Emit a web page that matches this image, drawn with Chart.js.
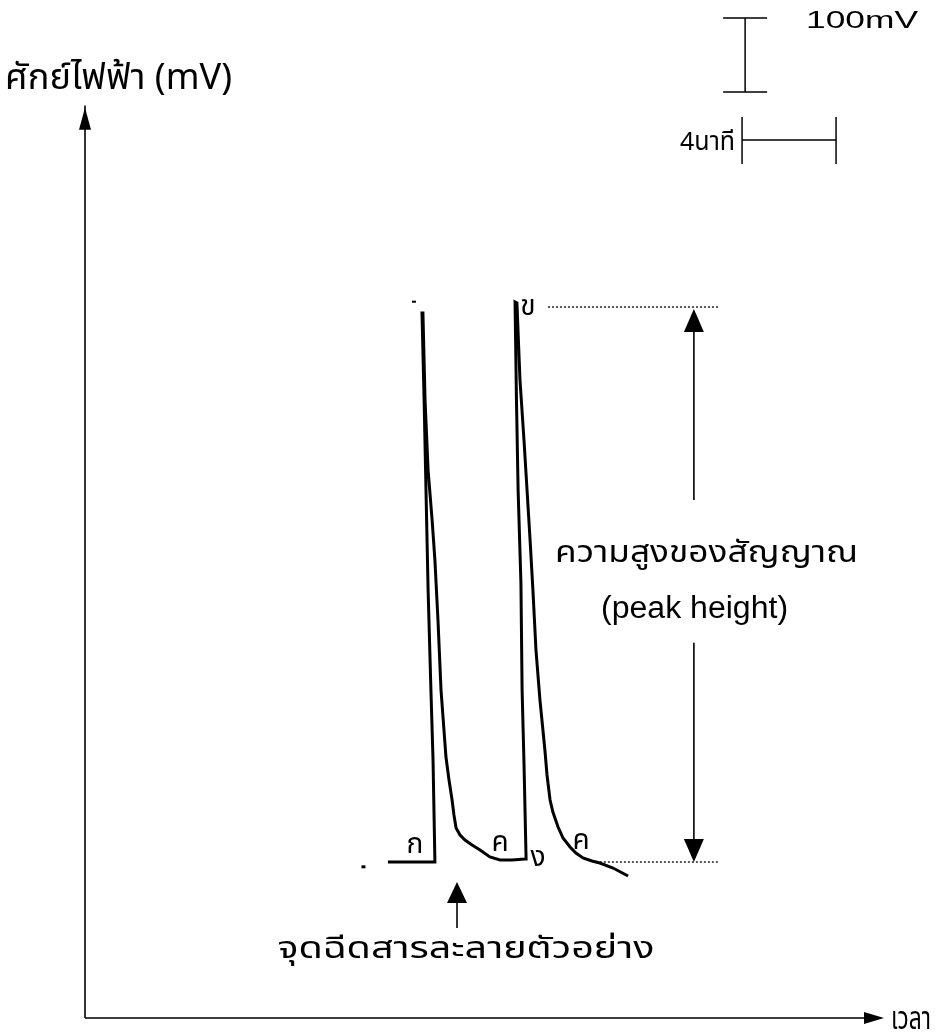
<!DOCTYPE html>
<html>
<head>
<meta charset="utf-8">
<script src="https://cdn.jsdelivr.net/npm/chart.js@4.4.1/dist/chart.umd.min.js"></script>
<style>
  html, body { margin: 0; padding: 0; background: #fff; }
  #wrap { width: 935px; height: 1035px; }
</style>
</head>
<body>
<div id="wrap"><canvas id="c" width="935" height="1035"></canvas></div>
<script>
// recorder trace: time (min) vs signal (mV)
const timeMin = [12.89, 14.89, 14.81, 14.72, 14.60, 14.51, 14.43, 14.34,
  14.38, 14.47, 14.60, 14.77, 14.89, 15.02, 15.15, 15.36, 15.49, 15.62, 15.70, 15.79, 15.96, 16.17, 16.47,
  16.81, 17.23, 17.66, 18.17, 18.72,
  18.77, 18.68, 18.60, 18.55, 18.43, 18.36, 18.30,
  18.38, 18.51, 18.68, 18.81, 18.94, 19.06, 19.19, 19.36, 19.57, 19.66, 19.79, 19.91, 20.13, 20.34, 20.64,
  20.89, 21.19, 21.57, 21.91, 22.47, 23.11];
const signalMv = [210.8, 210.8, 348.6, 443.2, 578.4, 713.5, 835.1, 952.7,
  952.7, 835.1, 740.5, 673.0, 618.9, 537.8, 443.2, 352.7, 321.6, 294.6, 274.3, 256.8, 247.3, 240.5, 233.8,
  227.0, 217.6, 213.5, 213.5, 214.9,
  214.9, 344.6, 443.2, 587.8, 713.5, 835.1, 967.6,
  966.2, 862.2, 781.1, 713.5, 645.9, 578.4, 497.3, 429.7, 362.2, 328.4, 294.6, 278.4, 258.1, 243.2, 231.1,
  223.0, 216.2, 212.2, 209.5, 202.7, 191.9];

// peak markers
const markText = ['ก', 'ค', 'ง', 'ข', 'ค'];
const markTime = [14.04, 17.66, 19.28, 18.85, 21.11];
const markMv   = [231.1, 233.8, 213.5, 958.1, 236.5];

// levels used for the peak height
const baseMv = 210.8, topMv = 960.8;
const scaleMv = 100, scaleMin = 4;

// axis range (origin at 0,0)
const xMin = -3.617, xMax = 36.17, yMin = -22.97, yMax = 1375.7;

const THAI = '"Noto Sans Thai", "Noto Sans Thai Looped", Loma, Garuda, "Tlwg Typo", "Noto Sans", "DejaVu Sans", sans-serif';
const LAT = '"Liberation Sans", Arial, sans-serif';

function tri(ctx, x, y, dir, len, half) {
  ctx.beginPath();
  if (dir === 'up') { ctx.moveTo(x, y); ctx.lineTo(x - half, y + len); ctx.lineTo(x + half, y + len); }
  if (dir === 'down') { ctx.moveTo(x, y); ctx.lineTo(x - half, y - len); ctx.lineTo(x + half, y - len); }
  if (dir === 'right') { ctx.moveTo(x, y); ctx.lineTo(x - len, y - half); ctx.lineTo(x - len, y + half); }
  ctx.closePath();
  ctx.fill();
}
function seg(ctx, x1, y1, x2, y2) {
  ctx.beginPath(); ctx.moveTo(x1, y1); ctx.lineTo(x2, y2); ctx.stroke();
}
// draw text squeezed/stretched to a given width
function fitText(ctx, txt, x, y, w, font, align) {
  ctx.font = font;
  const m = ctx.measureText(txt).width;
  const k = w / m;
  ctx.save();
  let left = x;
  if (align === 'center') left = x - w / 2;
  if (align === 'right') left = x - w;
  ctx.translate(left, y);
  ctx.scale(k, 1);
  ctx.textAlign = 'left';
  ctx.textBaseline = 'alphabetic';
  ctx.fillText(txt, 0, 0);
  ctx.restore();
}

const decor = {
  id: 'decor',
  afterDatasetsDraw(chart) {
    const ctx = chart.ctx;
    const X = v => chart.scales.x.getPixelForValue(v);
    const Y = v => chart.scales.y.getPixelForValue(v);
    ctx.save();
    ctx.strokeStyle = '#000';
    ctx.fillStyle = '#000';

    // axes with arrows
    ctx.lineWidth = 1.6;
    seg(ctx, X(0), Y(0), X(0), Y(1233));
    tri(ctx, X(0), Y(1230), 'up', 22, 6);
    seg(ctx, X(0), Y(0), X(33.2), Y(0));
    tri(ctx, X(34.0), Y(0), 'right', 20, 6);

    // scale bars
    ctx.lineWidth = 1.5;
    const sx = 28.09, sy = 1251.4;
    seg(ctx, X(sx), Y(sy), X(sx), Y(sy + scaleMv));
    seg(ctx, X(sx) - 22, Y(sy), X(sx) + 22, Y(sy));
    seg(ctx, X(sx) - 22, Y(sy + scaleMv), X(sx) + 22, Y(sy + scaleMv));
    const tx = 27.96, ty = 1186.5;
    seg(ctx, X(tx), Y(ty), X(tx + scaleMin), Y(ty));
    seg(ctx, X(tx), Y(ty) - 23, X(tx), Y(ty) + 24);
    seg(ctx, X(tx + scaleMin), Y(ty) - 23, X(tx + scaleMin), Y(ty) + 24);

    // dotted level lines
    ctx.lineWidth = 1.3;
    ctx.setLineDash([2, 2]);
    seg(ctx, X(19.70), Y(topMv), X(26.94), Y(topMv));
    seg(ctx, X(21.91), Y(baseMv), X(26.94), Y(baseMv));
    ctx.setLineDash([]);

    // peak height double arrow
    const ax = 25.91;
    ctx.lineWidth = 1.6;
    seg(ctx, X(ax), Y(topMv) + 18, X(ax), Y(700));
    seg(ctx, X(ax), Y(507), X(ax), Y(baseMv) - 18);
    tri(ctx, X(ax), Y(topMv) + 2, 'up', 23, 10);
    tri(ctx, X(ax), Y(baseMv), 'down', 23, 10);

    // injection arrow
    seg(ctx, X(15.83), Y(121.6), X(15.83), Y(175));
    tri(ctx, X(15.83), Y(183.8), 'up', 21, 10);

    // small stray marks on the recorder paper
    ctx.fillRect(X(14.0) - 2, Y(968) - 1, 4, 2);
    ctx.fillRect(X(11.85) - 2, Y(205) - 1, 4, 3);

    // peak markers
    ctx.font = '28px ' + THAI;
    ctx.textAlign = 'center';
    ctx.textBaseline = 'middle';
    markText.forEach((t, i) => ctx.fillText(t, X(markTime[i]), Y(markMv[i])));

    // texts
    fitText(ctx, 'ศักย์ไฟฟ้า (mV)', X(-3.40), Y(1256), 227, '36px ' + THAI, 'left');
    fitText(ctx, '100mV', X(30.68), Y(1337.8), 112, '24px ' + LAT, 'left');
    fitText(ctx, '4นาที', X(27.66), Y(1173), 55, '26px ' + THAI, 'right');
    fitText(ctx, 'ความสูงของสัญญาณ', X(20.0), Y(616.2), 303, '31px ' + THAI, 'left');
    fitText(ctx, '(peak height)', X(21.96), Y(540.5), 187, '31px ' + LAT, 'left');
    fitText(ctx, 'จุดฉีดสารละลายตัวอย่าง', X(16.21), Y(81.1), 377, '31px ' + THAI, 'center');
    fitText(ctx, 'เวลา', X(36.0), Y(-14.9), 40, '32px ' + THAI, 'right');
    ctx.restore();
  }
};

new Chart(document.getElementById('c'), {
  type: 'line',
  data: {
    datasets: [{
      data: timeMin.map((t, i) => ({ x: t, y: signalMv[i] })),
      borderColor: '#000',
      borderWidth: 3,
      pointRadius: 0,
      tension: 0,
      fill: false
    }]
  },
  options: {
    responsive: false,
    animation: false,
    layout: { padding: 0 },
    plugins: { legend: { display: false }, tooltip: { enabled: false } },
    scales: {
      x: { type: 'linear', min: xMin, max: xMax, display: false },
      y: { type: 'linear', min: yMin, max: yMax, display: false }
    }
  },
  plugins: [decor]
});
</script>
</body>
</html>
